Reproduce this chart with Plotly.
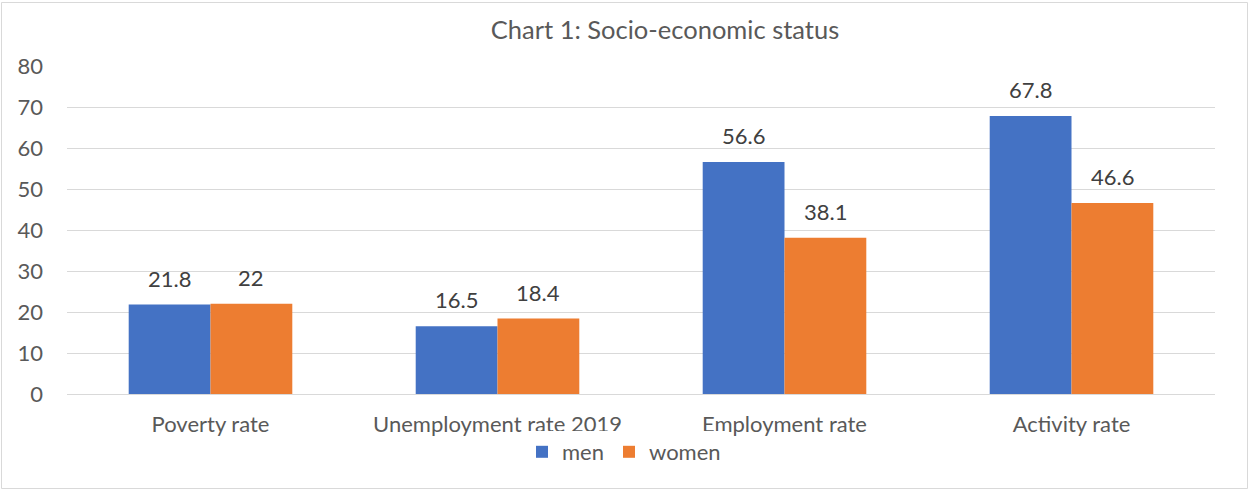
import plotly.graph_objects as go

categories = ["Poverty rate", "Unemployment rate 2019", "Employment rate", "Activity rate"]
men = [21.8, 16.5, 56.6, 67.8]
women = [22, 18.4, 38.1, 46.6]
y_ticks = [0, 10, 20, 30, 40, 50, 60, 70, 80]

FONT = "Lato"
W, H = 1249, 490
L, R, T, B = 67, 34, 66, 96
pw, ph = W - L - R, H - T - B
BARGAP = 0.43
bar_px = pw / len(categories) * (1 - BARGAP) / 2

series = [("men", men, "#4472C4", -1), ("women", women, "#ED7D31", 1)]

fig = go.Figure()
annotations = []
for name, vals, col, side in series:
    fig.add_trace(go.Bar(
        x=categories, y=vals, name=name, marker=dict(color=col, line=dict(width=0)),
        cliponaxis=False,
    ))
    for c, v in zip(categories, vals):
        annotations.append(dict(
            x=c, y=v, xref="x", yref="y", text=f"{v:g}", showarrow=False,
            xshift=side * bar_px / 2, yanchor="bottom", yshift=11,
            font=dict(family=FONT, size=22, color="#404040"),
        ))

fig.update_layout(
    width=W, height=H, margin=dict(l=L, r=R, t=T, b=B),
    paper_bgcolor="white", plot_bgcolor="white",
    barmode="group", bargap=BARGAP, bargroupgap=0,
    title=dict(text="Chart 1: Socio-economic status", x=665 / W, xanchor="center",
               y=1 - 30 / H, yanchor="middle", yref="container",
               font=dict(family=FONT, size=25.5, color="#595959")),
    font=dict(family=FONT, color="#595959"),
    legend=dict(orientation="h", x=(624 - L) / pw, xanchor="center", y=-(452 - (H - B)) / ph,
                yanchor="middle", font=dict(family=FONT, size=22, color="#595959"),
                traceorder="normal", itemwidth=30),
    showlegend=True,
    annotations=annotations,
    xaxis=dict(showgrid=False, showline=False, ticks="", tickfont=dict(size=22, color="#595959"),
               ticklabelstandoff=15),
    yaxis=dict(range=[0, 80], tickvals=y_ticks, showgrid=True, gridcolor="#D9D9D9", gridwidth=1,
               zeroline=True, zerolinecolor="#D9D9D9", zerolinewidth=1, showline=False,
               ticks="", tickfont=dict(size=22, color="#595959"), ticklabelstandoff=23),
    shapes=[dict(type="rect", xref="paper", yref="paper",
                 x0=-(L - 1.5) / pw, x1=1 + (R - 1.5) / pw,
                 y0=-(B - 1.5) / ph, y1=1 + (T - 2.5) / ph,
                 line=dict(color="#D9D9D9", width=1), layer="below")],
)

fig.write_html("out.html", config={"displayModeBar": False},
               post_script="document.body.style.margin='0';document.documentElement.style.overflow='hidden';")
